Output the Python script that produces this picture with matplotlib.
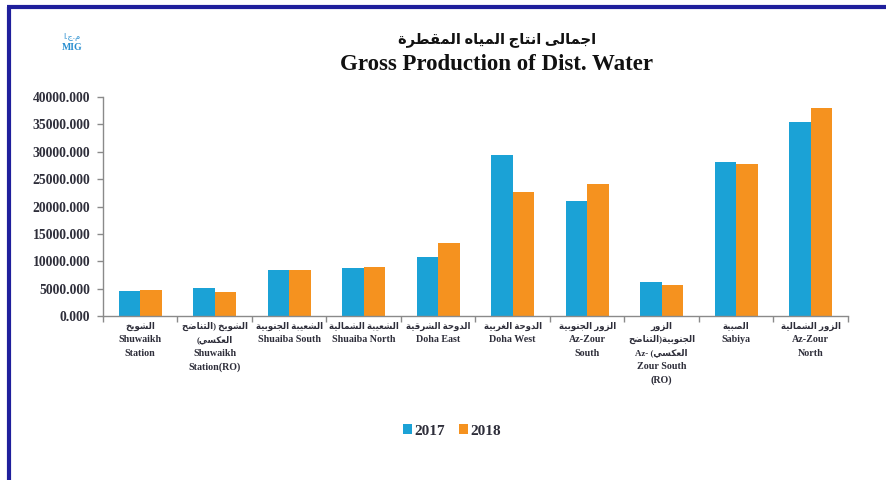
import matplotlib
matplotlib.use("Agg")
import matplotlib.pyplot as plt
from matplotlib.patches import Patch
import numpy as np

# ---------------- data ----------------
cat_ar = ["الشويخ", "الشويخ (التناضح\nالعكسي)", "الشعيبة الجنوبية", "الشعيبة الشمالية",
          "الدوحة الشرقية", "الدوحة الغربية", "الزور الجنوبية", "الزور\nالجنوبية(التناضح",
          "الصبية", "الزور الشمالية"]
cat_en = ["Shuwaikh\nStation", "Shuwaikh\nStation(RO)", "Shuaiba South", "Shuaiba North",
          "Doha East", "Doha West", "Az-Zour\nSouth", "Zour South\n(RO)",
          "Sabiya", "Az-Zour\nNorth"]
v2017 = [4600, 5200, 8400, 8750, 10750, 29400, 21000, 6200, 28100, 35500]
v2018 = [4700, 4300, 8400, 9000, 13400, 22700, 24200, 5600, 27800, 38000]
series = ["2017", "2018"]
yticks = [0, 5000, 10000, 15000, 20000, 25000, 30000, 35000, 40000]

# ---------------- minimal Arabic shaping ----------------
FORMS = {
    'ا': (0xFE8D, 0xFE8E, None, None), 'أ': (0xFE83, 0xFE84, None, None),
    'ب': (0xFE8F, 0xFE90, 0xFE91, 0xFE92), 'ة': (0xFE93, 0xFE94, None, None),
    'ت': (0xFE95, 0xFE96, 0xFE97, 0xFE98), 'ج': (0xFE9D, 0xFE9E, 0xFE9F, 0xFEA0),
    'ح': (0xFEA1, 0xFEA2, 0xFEA3, 0xFEA4), 'خ': (0xFEA5, 0xFEA6, 0xFEA7, 0xFEA8),
    'د': (0xFEA9, 0xFEAA, None, None), 'ر': (0xFEAD, 0xFEAE, None, None),
    'ز': (0xFEAF, 0xFEB0, None, None), 'س': (0xFEB1, 0xFEB2, 0xFEB3, 0xFEB4),
    'ش': (0xFEB5, 0xFEB6, 0xFEB7, 0xFEB8), 'ص': (0xFEB9, 0xFEBA, 0xFEBB, 0xFEBC),
    'ض': (0xFEBD, 0xFEBE, 0xFEBF, 0xFEC0), 'ط': (0xFEC1, 0xFEC2, 0xFEC3, 0xFEC4),
    'ع': (0xFEC9, 0xFECA, 0xFECB, 0xFECC), 'غ': (0xFECD, 0xFECE, 0xFECF, 0xFED0),
    'ق': (0xFED5, 0xFED6, 0xFED7, 0xFED8), 'ك': (0xFED9, 0xFEDA, 0xFEDB, 0xFEDC),
    'ل': (0xFEDD, 0xFEDE, 0xFEDF, 0xFEE0), 'م': (0xFEE1, 0xFEE2, 0xFEE3, 0xFEE4),
    'ن': (0xFEE5, 0xFEE6, 0xFEE7, 0xFEE8), 'ه': (0xFEE9, 0xFEEA, 0xFEEB, 0xFEEC),
    'و': (0xFEED, 0xFEEE, None, None), 'ى': (0xFEEF, 0xFEF0, None, None),
    'ي': (0xFEF1, 0xFEF2, 0xFEF3, 0xFEF4),
}


def _dual(c):
    return c in FORMS and FORMS[c][2] is not None


def shape_line(s):
    out = []
    for i, c in enumerate(s):
        if c not in FORMS:
            out.append(c)
            continue
        prev_j = i > 0 and _dual(s[i - 1])
        next_j = i < len(s) - 1 and s[i + 1] in FORMS and _dual(c)
        iso, fin, ini, med = FORMS[c]
        if prev_j and next_j:
            code = med
        elif prev_j:
            code = fin
        elif next_j:
            code = ini
        else:
            code = iso
        out.append(chr(code))
    vis = "".join(reversed(out))
    return vis.translate(str.maketrans("()", ")("))


def ar(s):
    return "\n".join(shape_line(l) for l in s.split("\n"))


# ---------------- figure ----------------
W, H = 887, 480
fig = plt.figure(figsize=(W / 100, H / 100), dpi=100)
fig.patch.set_facecolor("white")

FAM = ["Liberation Serif", "DejaVu Sans"]
TXT = "#2e2e3a"
C17 = "#1ba2d6"
C18 = "#f5921f"

ax = fig.add_axes([103 / W, 1 - 316 / H, (848 - 103) / W, (316 - 97) / H])
x = np.arange(len(v2017))
bw = 0.29
ax.bar(x - bw / 2, v2017, bw, color=C17, edgecolor="none", zorder=2)
ax.bar(x + bw / 2, v2018, bw, color=C18, edgecolor="none", zorder=2)

ax.set_xlim(-0.5, len(x) - 0.5)
ax.set_ylim(0, 40000)
ax.set_yticks(yticks)
ax.set_yticklabels([f"{v:.3f}" for v in yticks], fontfamily="Liberation Serif",
                   fontweight="bold", fontsize=9.8, color=TXT)
ax.set_xticks(np.arange(len(x) + 1) - 0.5)
ax.set_xticklabels([])
for s in ["top", "right"]:
    ax.spines[s].set_visible(False)
for s in ["left", "bottom"]:
    ax.spines[s].set_color("#8a8a8a")
    ax.spines[s].set_linewidth(1.0)
ax.tick_params(axis="both", direction="out", length=4, color="#8a8a8a", width=1.0)
ax.tick_params(axis="y", pad=5)
ax.set_facecolor("white")

# category labels, one line at a time
line0 = 326.0
pitch = 13.6
data_to_fig = ax.transData + fig.transFigure.inverted()
for i in range(len(x)):
    xf = data_to_fig.transform((i, 0))[0]
    lines = [(shape_line(l), 6.2) for l in cat_ar[i].split("\n")]
    if i == 7:
        lines.append(("Az- " + shape_line("العكسي)"), 6.4))
    lines += [(l, 7.2) for l in cat_en[i].split("\n")]
    for k, (t, fs) in enumerate(lines):
        fig.text(xf, 1 - (line0 + pitch * k) / H, t, ha="center", va="center",
                 fontsize=fs, fontweight="bold", family=FAM, color=TXT)

# titles
fig.text(497 / W, 1 - 40 / H, ar("اجمالى انتاج المياه المقطرة"), ha="center", va="center",
         fontsize=10.5, fontweight="bold", family=FAM, color="#111111")
fig.text(497 / W, 1 - 64 / H, "Gross Production of Dist. Water", ha="center", va="center",
         fontsize=16.5, fontweight="bold", family=FAM, color="#111111")

# unit
fig.text(72 / W, 1 - 37 / H, ar("م.ج.ا"), ha="center", va="center", fontsize=6,
         family=FAM, color="#2a8fd0")
fig.text(72 / W, 1 - 47 / H, "MIG", ha="center", va="center", fontsize=7,
         fontweight="bold", family=FAM, color="#2a8fd0")

# legend
handles = [Patch(facecolor=C17, edgecolor="none"), Patch(facecolor=C18, edgecolor="none")]
fig.legend(handles, series, loc="center", bbox_to_anchor=(452 / W, 1 - 431 / H), ncol=2,
           frameon=False, handlelength=0.6, handleheight=0.6, handletextpad=0.15,
           columnspacing=0.9, prop={"family": "Liberation Serif", "weight": "bold", "size": 11},
           labelcolor=TXT)

# blue frame (left + top)
frame_c = "#1f1f9c"
fig.add_artist(plt.Line2D([9 / W, 9 / W], [0, 1 - 7 / H], transform=fig.transFigure,
                          color=frame_c, lw=3, solid_capstyle="butt"))
fig.add_artist(plt.Line2D([7.5 / W, 1], [1 - 7 / H, 1 - 7 / H], transform=fig.transFigure,
                          color=frame_c, lw=3, solid_capstyle="butt"))

fig.savefig("out.png", dpi=100, facecolor="white")
